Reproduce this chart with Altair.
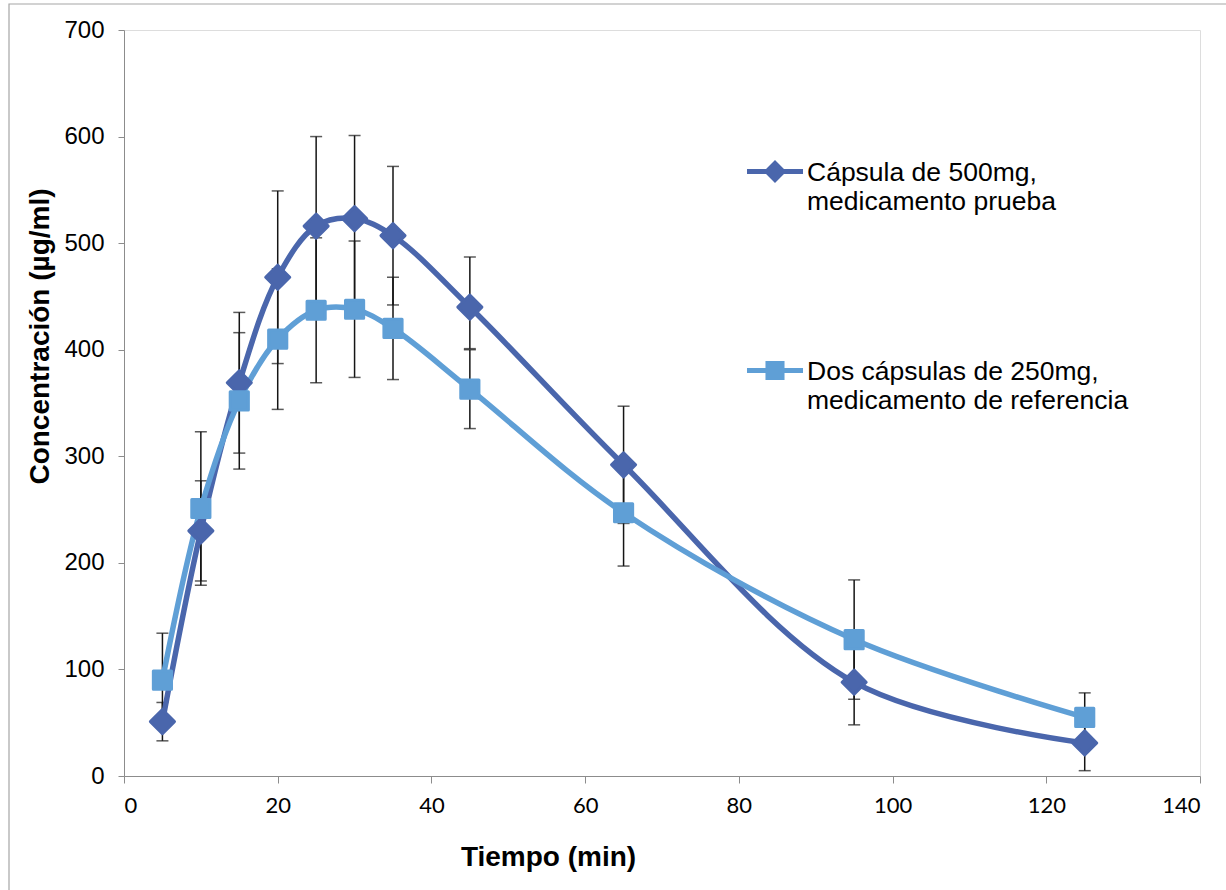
import altair as alt
import pandas as pd

# ---- data ----
times = [5, 10, 15, 20, 25, 30, 35, 45, 65, 95, 125]
series_names = ["Cápsula de 500mg, medicamento prueba",
                "Dos cápsulas de 250mg, medicamento de referencia"]
test_conc = [51, 230, 369, 468, 516, 523, 507, 440, 292, 88, 31]
test_err_plus = [18, 47, 66, 81, 84, 78, 65, 47, 55, 40, 26]
test_err_minus = [18, 47, 66, 81, 84, 78, 65, 39, 55, 40, 26]
ref_conc = [90, 251, 352, 410, 437, 438, 420, 363, 247, 128, 55]
ref_err_plus = [44, 72, 64, 66, 68, 64, 48, 37, 50, 56, 23]
ref_err_minus = [44, 72, 64, 66, 68, 64, 48, 37, 50, 56, 23]
x_ticks = [0, 20, 40, 60, 80, 100, 120, 140]
y_ticks = [0, 100, 200, 300, 400, 500, 600, 700]
x_title = "Tiempo (min)"
y_title = "Concentración (µg/ml)"

colors = ["#4a66ac", "#5f9fd6"]

rows = []
for name, vals, ep, em in [(series_names[0], test_conc, test_err_plus, test_err_minus),
                           (series_names[1], ref_conc, ref_err_plus, ref_err_minus)]:
    for t, v, p, m in zip(times, vals, ep, em):
        rows.append({"series": name, "time": t, "conc": v,
                     "lo": v - m, "hi": v + p})
df = pd.DataFrame(rows)

xs = alt.Scale(domain=[0, 140], nice=False)
ys = alt.Scale(domain=[0, 700], nice=False)
cscale = alt.Scale(domain=series_names, range=colors)

X = alt.X("time:Q", scale=xs, axis=alt.Axis(
    values=x_ticks, title=x_title, grid=False,
    domainColor="#8c8c8c", tickColor="#8c8c8c", tickSize=7,
    labelFont="Lato", labelFontSize=22, labelColor="black", labelPadding=12,
    titleFont="Liberation Sans", titleFontSize=28, titleFontWeight="bold",
    titleColor="black", titleX=424, titleY=81, titleAlign="center",
    titleBaseline="middle", titleAnchor="start"))
Y = alt.Y("conc:Q", scale=ys, axis=alt.Axis(
    values=y_ticks, title=y_title, grid=False,
    domainColor="#8c8c8c", tickColor="#8c8c8c", tickSize=6,
    labelFont="Liberation Sans", labelFontSize=24, labelColor="black",
    labelPadding=14,
    titleFont="Liberation Sans", titleFontSize=28, titleFontWeight="bold",
    titleColor="black", titleX=-84, titleY=306, titleAngle=-90,
    titleAlign="center", titleBaseline="middle", titleAnchor="start"))

# legend symbols: line with marker (unit = 14 px), shifted down to meet text
o = 0.82
def pts(p):
    return " ".join(f"{'M' if i == 0 else 'L'}{x},{round(y + o, 3)}"
                    for i, (x, y) in enumerate(p)) + " Z"
dia_path = pts([(-2, -0.18), (-0.64, -0.18), (0, -0.82), (0.64, -0.18),
                (2, -0.18), (2, 0.18), (0.64, 0.18), (0, 0.82),
                (-0.64, 0.18), (-2, 0.18)])
sq_path = pts([(-2, -0.18), (-0.68, -0.18), (-0.68, -0.68), (0.68, -0.68),
               (0.68, -0.18), (2, -0.18), (2, 0.18), (0.68, 0.18),
               (0.68, 0.68), (-0.68, 0.68), (-0.68, 0.18), (-2, 0.18)])

legend = alt.Legend(
    title=None, orient="none", legendX=637, legendY=116, padding=0,
    symbolSize=784, symbolStrokeWidth=0, labelOffset=18,
    labelFont="Liberation Sans", labelFontSize=26.5, labelColor="black",
    labelLimit=600, labelBaseline="top", rowPadding=130,
    labelExpr="split(replace(datum.label, ', ', ',|'), '|')")

base = alt.Chart(df)

border = alt.Chart(pd.DataFrame({"k": [0]})).mark_rect(
    fill="transparent", stroke="#a6a6a6", strokeWidth=1.2).encode(
    x=alt.value(-115), x2=alt.value(1110), y=alt.value(-26), y2=alt.value(870))

rules = base.mark_rule(color="#151515", strokeWidth=1.5).encode(
    x=X, y=alt.Y("lo:Q", scale=ys), y2="hi:Q")
cap_lo = base.mark_tick(orient="horizontal", size=12, thickness=1.5,
                        color="#151515").encode(x=X, y=alt.Y("lo:Q", scale=ys))
cap_hi = base.mark_tick(orient="horizontal", size=12, thickness=1.5,
                        color="#151515").encode(x=X, y=alt.Y("hi:Q", scale=ys))

color_enc = alt.Color("series:N", scale=cscale, legend=legend)
shape_enc = alt.Shape("series:N",
                      scale=alt.Scale(domain=series_names,
                                      range=[dia_path, sq_path]),
                      legend=legend)

lines = base.mark_line(interpolate="catmull-rom", strokeWidth=5.5).encode(
    x=X, y=Y, color=color_enc, detail="series:N")

diamonds = base.transform_filter(
    alt.datum.series == series_names[0]).mark_point(
    shape="diamond", filled=True, opacity=1, size=580, stroke=colors[0],
    strokeWidth=3, strokeJoin="round").encode(
    x=X, y=Y, color=color_enc)
squares = base.transform_filter(
    alt.datum.series == series_names[1]).mark_point(
    shape="square", filled=True, opacity=1, size=330, stroke=colors[1],
    strokeWidth=3, strokeJoin="round").encode(
    x=X, y=Y, color=color_enc)

# legend-only layer: no rows drawn, scales carry explicit domains
legend_layer = base.transform_filter("false").mark_point(
    filled=True, opacity=1, size=784).encode(
    x=X, y=Y, color=color_enc, shape=shape_enc)

chart = alt.layer(border, rules, cap_lo, cap_hi, lines, diamonds, squares,
                  legend_layer).properties(
    width=1076, height=746,
    autosize=alt.AutoSizeParams(type="none"),
    padding={"left": 124, "top": 30, "right": 26, "bottom": 114},
).configure_view(stroke=None).configure(background="white")

chart.save("out.html", embed_options={"renderer": "svg", "actions": False})
